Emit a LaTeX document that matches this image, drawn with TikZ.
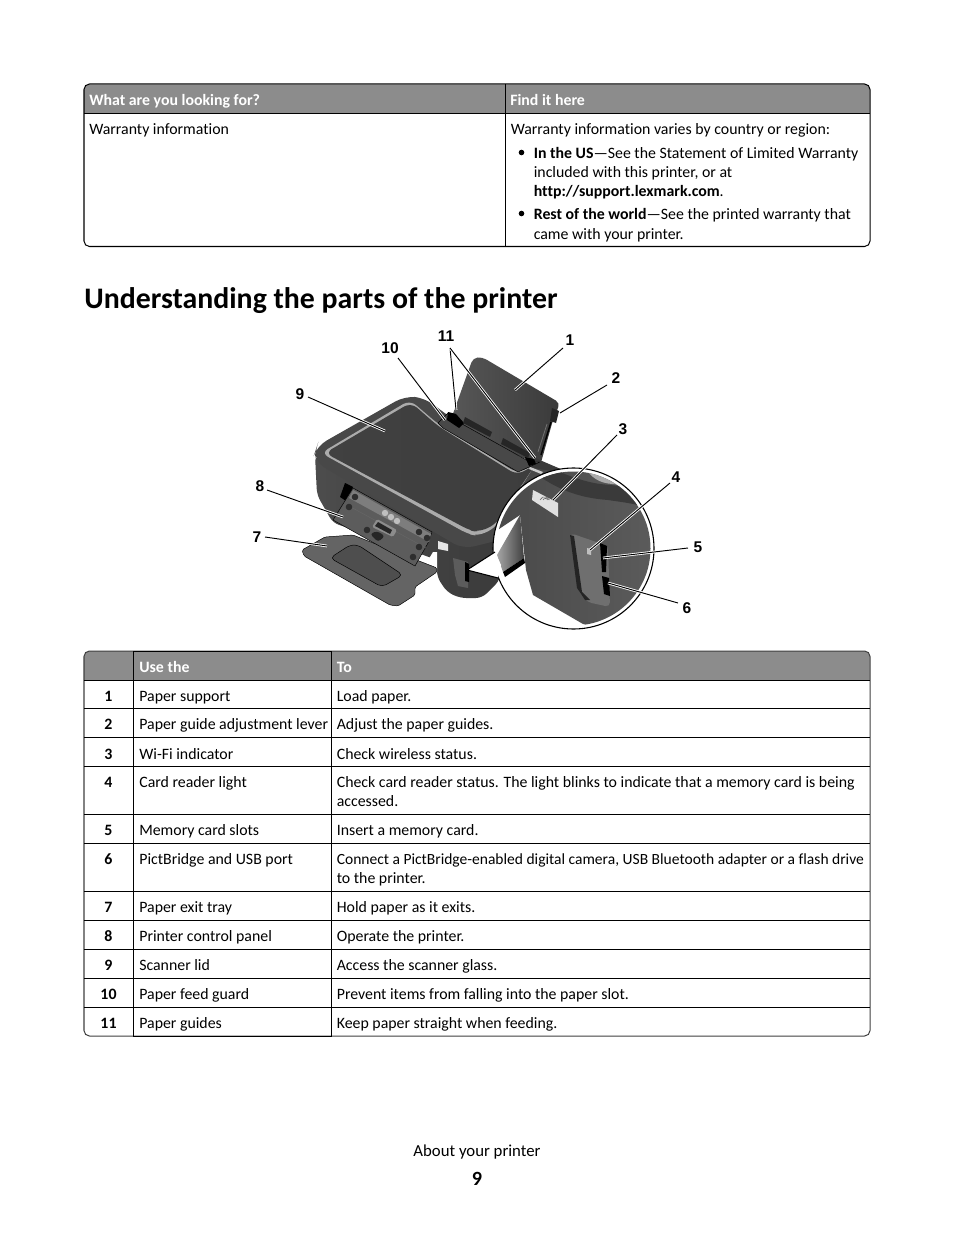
\documentclass[tikz,border=0pt]{standalone}
\usepackage{fontspec}
\setmainfont[Ligatures=CommonOff]{Carlito}
\newfontfamily\callfont{Liberation Sans}
\usepackage{xcolor}
\usetikzlibrary{positioning}
\definecolor{headgray}{HTML}{8C8C8C}
\definecolor{lidgray}{HTML}{484848}
\definecolor{glassgray}{HTML}{5A5A5A}
\definecolor{trimgray}{HTML}{ABABAB}
\definecolor{bodygray}{HTML}{3A3A3A}
\definecolor{panelgray}{HTML}{5C5C5C}

\begin{document}
\begin{tikzpicture}[
    x=0.6415bp, y=-0.6415bp,
    rule/.style={black, line width=0.65pt},
    headtxt/.style={anchor=base west, inner sep=0pt, text=white, font=\fontsize{10.2}{12}\selectfont\bfseries},
    celltxt/.style={anchor=base west, inner sep=0pt, font=\fontsize{10.2}{12}\selectfont},
    numtxt/.style={anchor=base, inner sep=0pt, font=\fontsize{10.2}{12}\selectfont\bfseries},
    calllabel/.style={inner sep=0pt, font=\callfont\fontsize{10}{12}\selectfont\bfseries},
    halo/.style={white, line width=1.7pt},
    leader/.style={black, line width=0.6pt},
    part/.style={draw=black, line width=0.3pt, line join=round},
    knob/.style={fill=black!82}
]
\useasboundingbox (0,0) rectangle (954,1235);
\fill[white] (0,0) rectangle (954,1235);

% first table
\begin{scope}
\clip[rounded corners=3.5pt] (84,84) rectangle (870,246.5);
\fill[headgray] (84,84) rectangle (870,113.5);
\end{scope}
\draw[rule, rounded corners=3.5pt] (84,84) rectangle (870,246.5);
\draw[rule] (84,113.5) -- (870,113.5);
\draw[rule] (505.5,84) -- (505.5,246.5);
\node[headtxt] (looking) at (89,106) {What are you looking for?};
\node[headtxt] (findit) at (510,106) {Find it here};
\node[celltxt] (warranty) at (89,135) {Warranty information};
\node[celltxt] (varies) at (510.5,135) {Warranty information varies by country or region:};
\fill (521.5,152.5) circle (2.8);
\fill (521.5,213.5) circle (2.8);
\node[celltxt] (usa1) at (533.5,159) {\textbf{In the US}—See the Statement of Limited Warranty};
\node[celltxt] (usa2) at (533.5,178) {included with this printer, or at};
\node[celltxt] (usa3) at (533.5,197) {\textbf{http://support.lexmark.com}.};
\node[celltxt] (rest1) at (533.5,220) {\textbf{Rest of the world}—See the printed warranty that};
\node[celltxt] (rest2) at (533.5,240) {came with your printer.};

% heading
\node[anchor=base west, inner sep=0pt, font=\fontsize{19.2}{24}\selectfont\bfseries] (title) at (84,308.5) {Understanding the parts of the printer};

% paper support and lever
\shade[left color=bodygray!85!white, right color=bodygray, rounded corners=3pt] (473,358) -- (482,357) -- (560,403) -- (553,420) -- (540,466) -- (450,422) -- cycle;
\fill[black!85] (552,408) -- (559,411) -- (556,423) -- (550,421) -- cycle;
\draw[black, line width=0.9pt] (551,422) -- (541,455);
\draw[black!55, line width=0.5pt] (547,424) -- (538,452);
\fill[bodygray] (535,458) -- (563,470) -- (545,490) -- (520,478) -- cycle;

% body under the lid
\shade[left color=black!70, right color=bodygray, rounded corners=4pt] (315,455) -- (317,495) -- (333,523) -- (355,530) -- (437,560) -- (437,577) -- (447,592) -- (460,598) -- (482,598) -- (500,580) -- (505,530) -- (350,470) -- cycle;
\fill[black] (345,483) -- (353,487) -- (346,501) -- (340,497) -- cycle;
\fill[white] (433,552) -- (437,552) -- (437,572) -- (418,577) -- cycle;

% exit tray
\fill[part, fill=panelgray!95!white, rounded corners=1pt] (302,550) -- (325,537) -- (353,535) -- (437,568) -- (437,572) -- (415,587) -- (415,595) -- (398,606) -- (390,605) -- (304,556) -- cycle;
\fill[part, fill=panelgray!85!black, rounded corners=3pt] (330,558) -- (350,545) -- (358,545) -- (403,575) -- (382,587) -- cycle;

% control panel
\fill[part, fill=panelgray] (353,488) -- (432,532) -- (428,543) -- (415,566) -- (333,520) -- cycle;
\fill[panelgray!80!white] (353,490) -- (431,534) -- (429,542) -- (349,498) -- cycle;
\draw[black!60, line width=0.3pt] (347,505) -- (426,548);
\foreach \bx/\by in {355/497, 349/507, 367/530, 419/532, 427/538, 419/547, 413/557}
    \fill[knob] (\bx,\by) circle (3.3);
\foreach \bx/\by in {385/513, 391/517, 397/521}
    \fill[white!75!black] (\bx,\by) circle (3.2);
\fill[black!45, rounded corners=1pt] (372,527) -- (377,519) -- (397,530) -- (393,537) -- cycle;
\fill[black!85] (375,526) -- (378,522) -- (392,530) -- (390,534) -- cycle;
\fill[black!85, rounded corners=2pt] (370,534) -- (377,531) -- (385,536) -- (378,542) -- cycle;

% lid
\fill[lidgray, rounded corners=7pt] (315,452) -- (317,446) -- (405,396) -- (425,398) -- (447,415) -- (530,468) -- (560,472) -- (500,540) -- (463,549) -- (315,462) -- cycle;
\fill[trimgray, rounded corners=5pt] (321,453) -- (410,400) -- (438,424) -- (517,473) -- (535,465) -- (495,528) -- (478,536) -- (468,534) -- cycle;
\shade[left color=lidgray!90!black, middle color=glassgray, right color=lidgray!85!black, rounded corners=5pt] (325,453) -- (411,402.5) -- (438,426) -- (517,475) -- (535,465) -- (495,525) -- (478,532) -- (470,530.5) -- cycle;

% feed guard and paper guides
\fill[part, fill=lidgray] (438,423) -- (448,413) -- (455,420) -- (530,462) -- (540,462) -- (518,472) -- (443,428) -- cycle;
\fill[black] (448,412) -- (456,414) -- (464,423) -- (459,428) -- (447,420) -- cycle;
\fill[black] (525,457) -- (534,459) -- (536,464) -- (529,466) -- cycle;
\fill[black!85] (465,417) -- (492,432) -- (490,437) -- (463,423) -- cycle;
\fill[black!85] (503,438) -- (530,453) -- (528,458) -- (501,444) -- cycle;
\fill[white!80!black] (530,467) -- (543,472) -- (541,474) -- (529,469) -- cycle;

% right side front
\fill[white!90!black] (438,541) -- (448,544) -- (448,551) -- (438,549) -- cycle;
\fill[panelgray] (453,558) -- (468,562) -- (468,588) -- (458,586) -- (455,575) -- cycle;
\fill[black] (465,562) -- (469,564) -- (469,582) -- (465,581) -- cycle;

% lens and wedge
\coordinate (wedgetip) at (467,570);
\coordinate (wedgeup) at (495,552);
\coordinate (wedgedown) at (498,578);
\fill[white] (573.5,548.5) circle (80.5);
\draw[black, line width=0.7pt] (573.5,548.5) circle (80.5);
\begin{scope}
\clip (573.5,548.5) circle (77);
\shade[left color=lidgray, right color=panelgray] (490,465) -- (660,465) -- (660,640) -- (583,624) -- (533,595) -- (526,570) -- (520,515) -- (490,535) -- cycle;
\fill[bodygray] (542,478) .. controls (560,490) and (580,498) .. (608,500) .. controls (620,502) and (635,503) .. (655,510) -- (660,490) -- (600,484) .. controls (585,482) and (565,475) .. (552,468) -- cycle;
\fill[trimgray] (585,466) .. controls (590,478) and (600,483) .. (612,484) .. controls (630,486) and (640,480) .. (650,470) -- cycle;
\shade[left color=black!35, right color=black!75] (497,555) -- (520,515) -- (524,558) -- (503,572) -- cycle;
\fill[black] (503,572) -- (524,558) -- (525,563) -- (505,577) -- cycle;
% wifi label
\fill[white!88!black] (533,490) -- (558,503) -- (558,517) -- (532,500) -- cycle;
\draw[black!60, line width=0.4pt] (540,500) arc (200:340:5);
\draw[black!60, line width=0.4pt] (543,500) arc (200:340:2.5);
% slots
\fill[panelgray!88!white, rounded corners=3pt] (570,533) -- (608,546) -- (610,607) -- (587,602) -- (578,590) -- cycle;
\fill[lidgray!50!black] (570,535) -- (574,536) -- (582,592) -- (590,600) -- (585,600) -- (577,588) -- cycle;
\fill[black] (600,543) -- (607,546) -- (606,572) -- (602,572) -- cycle;
\fill[black] (602,576) -- (609,578) -- (610,596) -- (604,594) -- cycle;
\fill[white!75!black] (587,548) -- (591,549) -- (591,555) -- (587,554) -- cycle;
\end{scope}
\fill[white] (wedgetip) -- (wedgeup) -- (501,565) -- (wedgedown) -- cycle;
\draw[black, line width=0.7pt] (wedgeup) -- (wedgetip) -- (wedgedown);

% callout labels
\node[calllabel] (call1) at (570,340) {1};
\node[calllabel] (call2) at (616,378) {2};
\node[calllabel] (call3) at (623,429) {3};
\node[calllabel] (call4) at (676,477) {4};
\node[calllabel] (call5) at (698,547) {5};
\node[calllabel] (call6) at (687,608) {6};
\node[calllabel] (call7) at (257,537) {7};
\node[calllabel] (call8) at (260,486) {8};
\node[calllabel] (call9) at (300,394) {9};
\node[calllabel] (call10) at (390,348) {10};
\node[calllabel] (call11) at (446,336) {11};

% leader ends
\coordinate (end1) at (515,390);
\coordinate (end2) at (560,413);
\coordinate (end3) at (553,500);
\coordinate (end4) at (590,550);
\coordinate (end5) at (603,558);
\coordinate (end6) at (608,583);
\coordinate (end7) at (327,546);
\coordinate (end8) at (343,517);
\coordinate (end9) at (385,431);
\coordinate (end10) at (445,420);
\coordinate (end11a) at (456,410);
\coordinate (end11b) at (535,458);

% leaders
\foreach \calln/\endn/\ax/\ay in {1/1/-7/8, 2/2/-9/7, 3/3/-6/6, 4/4/-6/6, 5/5/-10/1, 6/6/-9/-5, 7/7/8/0, 8/8/7/4, 9/9/8/3, 10/10/8/10, 11/11a/4/12, 11/11b/4/12} {
    \draw[halo] ([shift={(\ax,\ay)}]call\calln.center) -- (end\endn);
    \draw[leader] ([shift={(\ax,\ay)}]call\calln.center) -- (end\endn);
}

% second table
\begin{scope}
\clip[rounded corners=3.5pt] (84,651) rectangle (870,1036);
\fill[headgray] (84,651) rectangle (870,680);
\end{scope}
\draw[black!75, line width=0.65pt, rounded corners=3.5pt] (84,651) rectangle (870,1036);
\draw[rule] (133.5,651) -- (331.5,651);
\draw[rule] (133.5,651) -- (133.5,1036.5) -- (331.5,1036.5) -- (331.5,651);
\foreach \ylin in {680,708.5,737.5,766.5,814.5,843.5,891.5,920.5,949.5,978.5,1007.5}
    \draw[rule] (84,\ylin) -- (870,\ylin);
\node[headtxt] (usethe) at (139,672.5) {Use the};
\node[headtxt] (tocol) at (336.5,672.5) {To};
\foreach \rowid/\ybase/\partname/\actname in {
    1/701.5/Paper support/Load paper.,
    2/729.5/Paper guide adjustment lever/Adjust the paper guides.,
    3/759.5/Wi-Fi indicator/Check wireless status.,
    4/787.5/Card reader light/Check card reader status. The light blinks to indicate that a memory card is being,
    5/835.5/Memory card slots/Insert a memory card.,
    6/864.5/PictBridge and USB port/{\fontsize{10}{12}\selectfont Connect a PictBridge-enabled digital camera, USB Bluetooth adapter or a flash drive},
    7/912.5/Paper exit tray/Hold paper as it exits.,
    8/941.5/Printer control panel/Operate the printer.,
    9/970.5/Scanner lid/Access the scanner glass.,
    10/999.5/Paper feed guard/Prevent items from falling into the paper slot.,
    11/1028.5/Paper guides/Keep paper straight when feeding.} {
    \node[numtxt] (num\rowid) at (108.5,\ybase) {\rowid};
    \node[celltxt] (use\rowid) at (139,\ybase) {\partname};
    \node[celltxt] (act\rowid) at (336.5,\ybase) {\actname};
}
\node[celltxt] (act4b) at (336.5,806.5) {accessed.};
\node[celltxt] (act6b) at (336.5,883.5) {to the printer.};

% footer
\node[anchor=base, inner sep=0pt, font=\fontsize{10.8}{12}\selectfont] (footer) at (477,1156) {About your printer};
\node[anchor=base, inner sep=0pt, font=\fontsize{13}{15}\selectfont\bfseries] (pageno) at (477,1185) {9};
\end{tikzpicture}
\end{document}
